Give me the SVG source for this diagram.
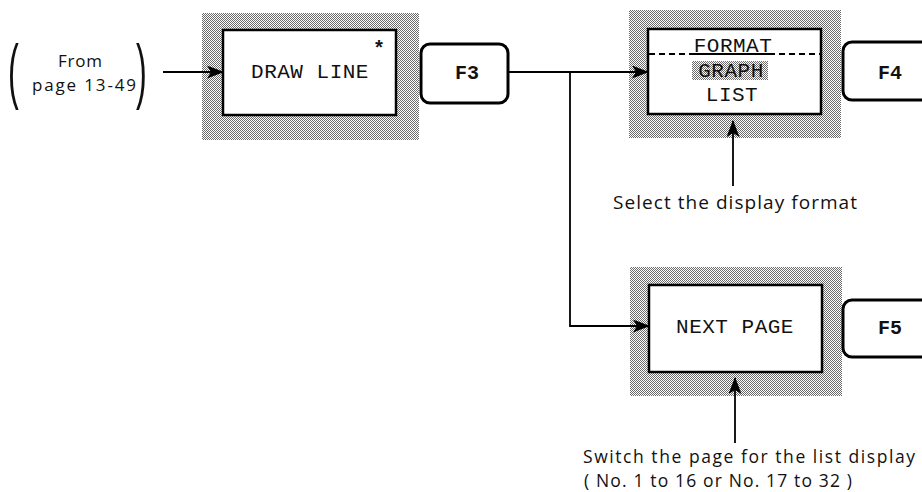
<svg xmlns="http://www.w3.org/2000/svg" width="922" height="492" viewBox="0 0 922 492">
<defs>
<pattern id="stip" width="2" height="2" patternUnits="userSpaceOnUse">
<rect width="2" height="2" fill="#ffffff"/>
<rect x="0" y="0" width="1" height="1" fill="#6a6a6a"/>
<rect x="1" y="1" width="1" height="1" fill="#6a6a6a"/>
</pattern>
<marker id="ah" markerUnits="userSpaceOnUse" markerWidth="17" markerHeight="13" refX="16" refY="6.5" orient="auto">
<path d="M0,0 L17,6.5 L0,13 L4,6.5 Z" fill="#000"/>
</marker>
</defs>
<style>
.shadow{fill:url(#stip);stroke:none}
.box{fill:#fff;stroke:#000;stroke-width:2.5}
.fkey{fill:#fff;stroke:#000;stroke-width:3}
.mono{font-family:"Liberation Mono","DejaVu Sans Mono",monospace;font-size:21px;letter-spacing:0.5px;text-anchor:middle;fill:#111}
.fk{font-family:"Liberation Mono","DejaVu Sans Mono",monospace;font-size:20px;font-weight:bold;text-anchor:middle;fill:#111}
.note{font-family:"Open Sans","Noto Sans","Liberation Sans",sans-serif;font-size:19px;fill:#111}
.note2{font-family:"Open Sans","Noto Sans","Liberation Sans",sans-serif;font-size:17.5px;fill:#111}
.src{font-family:"Open Sans","Noto Sans","Liberation Sans",sans-serif;font-size:17px;fill:#111}
.paren{font-family:"Liberation Sans",Arial,sans-serif;font-size:72px;fill:#111}
.conn{fill:none;stroke:#000;stroke-width:1.8}
</style>

<g id="source">
<text class="paren" transform="translate(8,95) scale(0.45,1)">(</text>
<text class="src" x="80" y="67" text-anchor="middle" textLength="44" lengthAdjust="spacing">From</text>
<text class="src" x="84" y="91" text-anchor="middle" textLength="104" lengthAdjust="spacing">page 13-49</text>
<text class="paren" transform="translate(136,95) scale(0.45,1)">)</text>
</g>

<g id="draw-line">
<rect class="shadow" x="202" y="13" width="217" height="127"/>
<rect class="box" x="223" y="30" width="173" height="85"/>
<text class="mono" x="310" y="78">DRAW LINE</text>
<text class="fk" x="379" y="55" font-size="18">*</text>
</g>

<g id="f3">
<rect class="fkey" x="421" y="44" width="87" height="59" rx="9"/>
<text class="fk" x="467" y="79">F3</text>
</g>

<g id="format">
<rect class="shadow" x="629" y="10" width="212" height="128"/>
<rect class="box" x="648" y="29" width="173" height="85"/>
<line x1="649" y1="54" x2="820" y2="54" stroke="#000" stroke-width="2" stroke-dasharray="6,4"/>
<line x1="692" y1="54" x2="772" y2="54" stroke="#000" stroke-width="2"/>
<text class="mono" x="733" y="52">FORMAT</text>
<rect class="shadow" x="692" y="61" width="76" height="19"/>
<text class="mono" x="731" y="77" fill="#333">GRAPH</text>
<text class="mono" x="732" y="101">LIST</text>
</g>

<g id="f4">
<rect class="fkey" x="843" y="42" width="100" height="58" rx="9"/>
<text class="fk" x="890" y="79">F4</text>
</g>

<g id="next-page">
<rect class="shadow" x="630" y="267" width="212" height="129"/>
<rect class="box" x="649" y="285" width="173" height="87"/>
<text class="mono" x="735" y="333">NEXT PAGE</text>
</g>

<g id="f5">
<rect class="fkey" x="843" y="300" width="100" height="57" rx="9"/>
<text class="fk" x="890" y="334">F5</text>
</g>

<g id="note-format">
<text class="note" x="613" y="209" textLength="244" lengthAdjust="spacing">Select the display format</text>
</g>

<g id="note-page">
<text class="note2" x="583" y="463" textLength="332" lengthAdjust="spacing">Switch the page for the list display</text>
<text class="note2" x="584" y="487" textLength="268" lengthAdjust="spacing">( No. 1 to 16 or No. 17 to 32 )</text>
</g>

<g id="connectors">
<line class="conn" x1="163" y1="72" x2="223" y2="72" marker-end="url(#ah)"/>
<line class="conn" x1="508" y1="72" x2="648" y2="72" marker-end="url(#ah)"/>
<polyline class="conn" points="570,72 570,326 649,326" marker-end="url(#ah)"/>
<line class="conn" x1="733" y1="186" x2="733" y2="121" marker-end="url(#ah)"/>
<line class="conn" x1="735" y1="443" x2="735" y2="378" marker-end="url(#ah)"/>
</g>
</svg>
